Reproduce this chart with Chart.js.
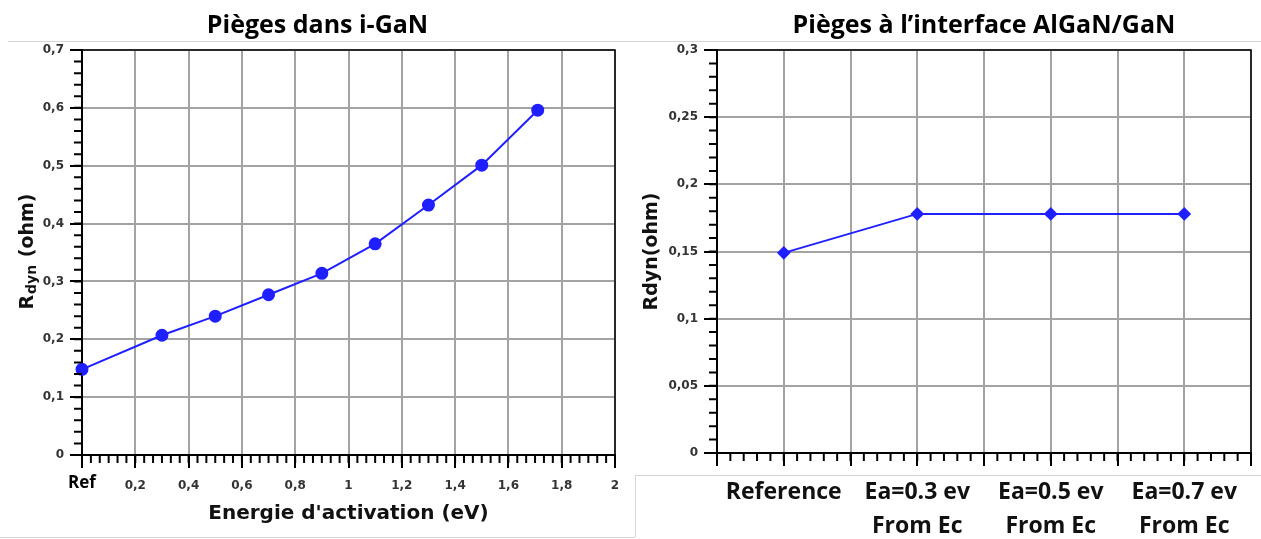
<!DOCTYPE html>
<html lang="fr">
<head>
<meta charset="UTF-8">
<title>Rdyn - pièges</title>
<script src="https://cdn.jsdelivr.net/npm/chart.js"></script>
<style>
    html, body { margin: 0; padding: 0; background: #fff; }
    #wrap { position: relative; width: 1261px; height: 539px; overflow: hidden; }
    #leftBox { position: absolute; left: 0; top: 0; width: 640px; height: 539px; }
    #rightBox { position: absolute; left: 640px; top: 0; width: 621px; height: 539px; }
    .edge { position: absolute; background: #d6d6d6; pointer-events: none; }
</style>
</head>
<body>
<div id="wrap">
    <div id="leftBox"><canvas id="bulkChart"></canvas></div>
    <div id="rightBox"><canvas id="ifaceChart"></canvas></div>
    <!-- bords clairs des captures d'origine -->
    <div class="edge" style="left:8px;top:41px;width:1253px;height:1px"></div>
    <div class="edge" style="left:0;top:537px;width:635px;height:1px"></div>
    <div class="edge" style="left:635px;top:475px;width:1px;height:62px"></div>
    <div class="edge" style="left:635px;top:475px;width:626px;height:1px"></div>
</div>
<script>
    // pièges dans i-GaN
    const energyEv = [0, 0.3, 0.5, 0.7, 0.9, 1.1, 1.3, 1.5, 1.71];
    const rdynBulk = [0.148, 0.207, 0.240, 0.277, 0.314, 0.365, 0.432, 0.501, 0.596];
    const bulkZeroLabel = 'Ref';

    // pièges à l'interface AlGaN/GaN
    const trapCases = [['Reference'], ['Ea=0.3 ev', 'From Ec'], ['Ea=0.5 ev', 'From Ec'], ['Ea=0.7 ev', 'From Ec']];
    const rdynIface = [0.149, 0.178, 0.178, 0.178];

    const tickFont = { family: "'DejaVu Sans'", size: 12, weight: 'bold' };
    const blue = '#1f1fff';
    const gridGray = '#a3a3a3';

    function fr(v) {
        return String(+v.toFixed(3)).replace('.', ',');
    }

    // petites graduations + cadre haut/droite
    const minorTicks = {
        id: 'minorTicks',
        afterDraw(chart, args, opts) {
            const ctx = chart.ctx;
            const a = chart.chartArea;
            ctx.save();
            ctx.strokeStyle = '#000';
            ctx.lineWidth = 1.5;
            ctx.beginPath();
            ctx.moveTo(a.left, a.top);
            ctx.lineTo(a.right, a.top);
            ctx.lineTo(a.right, a.bottom);
            ctx.stroke();

            ctx.lineWidth = 2;
            const xs = chart.scales.x, ys = chart.scales.y;
            let n = Math.round((xs.max - xs.min) / opts.xStep);
            ctx.beginPath();
            for (let i = 0; i <= n; i++) {
                const px = xs.getPixelForValue(xs.min + i * opts.xStep);
                ctx.moveTo(px, a.bottom);
                ctx.lineTo(px, a.bottom + opts.len);
            }
            n = Math.round((ys.max - ys.min) / opts.yStep);
            for (let i = 0; i <= n; i++) {
                const py = ys.getPixelForValue(ys.min + i * opts.yStep);
                ctx.moveTo(a.left, py);
                ctx.lineTo(a.left - opts.len, py);
            }
            ctx.stroke();

            if (opts.subTitle) {
                const t = opts.subTitle;
                ctx.translate(t.x, (a.top + a.bottom) / 2);
                ctx.rotate(-Math.PI / 2);
                ctx.fillStyle = '#111';
                ctx.textBaseline = 'alphabetic';
                ctx.textAlign = 'left';
                const big = "bold 19px 'DejaVu Sans'", small = "bold 14px 'DejaVu Sans'";
                ctx.font = big; const w1 = ctx.measureText(t.main).width;
                const w3 = ctx.measureText(t.tail).width;
                ctx.font = small; const w2 = ctx.measureText(t.sub).width;
                let x0 = -(w1 + w2 + w3) / 2;
                ctx.font = big; ctx.fillText(t.main, x0, 7);
                ctx.font = small; ctx.fillText(t.sub, x0 + w1 + 1, 10);
                ctx.font = big; ctx.fillText(t.tail, x0 + w1 + w2 + 2, 7);
            }
            ctx.restore();
        }
    };

    new Chart(document.getElementById('bulkChart'), {
        type: 'scatter',
        data: {
            datasets: [{
                data: energyEv.map((e, i) => ({ x: e, y: rdynBulk[i] })),
                showLine: true,
                borderColor: blue,
                backgroundColor: blue,
                borderWidth: 2,
                pointRadius: 5.5,
                pointHoverRadius: 5.5,
                clip: false
            }]
        },
        options: {
            responsive: true,
            maintainAspectRatio: false,
            animation: false,
            layout: { padding: { left: 20, right: 25, top: 0, bottom: 0 } },
            plugins: {
                legend: { display: false },
                tooltip: { enabled: false },
                title: {
                    display: true,
                    text: 'Pièges dans i-GaN',
                    color: '#000',
                    font: { family: "'Open Sans'", size: 25, weight: 'bold' },
                    padding: { top: 11, bottom: 9 }
                },
                minorTicks: { xStep: 0.2 / 6, yStep: 0.02, len: 8,
                    subTitle: { x: 26, main: 'R', sub: 'dyn', tail: ' (ohm)' } }
            },
            scales: {
                x: {
                    type: 'linear', min: 0, max: 2,
                    afterFit(s) { s.height = 84; },
                    border: { color: '#000', width: 2 },
                    grid: { color: gridGray, lineWidth: 2, tickLength: 13, tickColor: '#000', tickWidth: 2 },
                    ticks: {
                        stepSize: 0.2, autoSkip: false, maxRotation: 0, padding: 11,
                        color: (c) => c.tick && c.tick.value === 0 ? '#000' : '#333',
                        font: (c) => c.tick && c.tick.value === 0
                            ? { family: "'Open Sans'", size: 17, weight: 'bold', lineHeight: 0.5 }
                            : tickFont,
                        callback: (v) => v === 0 ? bulkZeroLabel : fr(v)
                    },
                    title: {
                        display: true,
                        text: "Energie d'activation (eV)",
                        color: '#111',
                        font: { family: "'DejaVu Sans'", size: 20, weight: 'bold' },
                        padding: { top: 0, bottom: 13 }
                    }
                },
                y: {
                    min: 0, max: 0.7,
                    afterFit(s) { s.width = 62; },
                    border: { color: '#000', width: 2 },
                    grid: { color: gridGray, lineWidth: 2, tickLength: 12, tickColor: '#000', tickWidth: 2 },
                    ticks: { stepSize: 0.1, padding: 6, color: '#333', font: tickFont, callback: (v) => fr(v) }
                }
            }
        },
        plugins: [minorTicks]
    });

    new Chart(document.getElementById('ifaceChart'), {
        type: 'scatter',
        data: {
            datasets: [{
                data: rdynIface.map((r, i) => ({ x: i, y: r })),
                showLine: true,
                borderColor: blue,
                backgroundColor: blue,
                borderWidth: 2,
                pointStyle: 'rectRot',
                pointRadius: 5.5,
                pointHoverRadius: 5.5,
                clip: false
            }]
        },
        options: {
            responsive: true,
            maintainAspectRatio: false,
            animation: false,
            layout: { padding: { left: 0, right: 10, top: 0, bottom: 0 } },
            plugins: {
                legend: { display: false },
                tooltip: { enabled: false },
                title: {
                    display: true,
                    fullSize: false,
                    text: 'Pièges à l’interface AlGaN/GaN',
                    color: '#000',
                    font: { family: "'Open Sans'", size: 25, weight: 'bold' },
                    padding: { top: 11, bottom: 9 }
                },
                minorTicks: { xStep: 0.1, yStep: 0.01, len: 8 }
            },
            scales: {
                x: {
                    type: 'linear', min: -0.5, max: trapCases.length - 0.5,
                    afterFit(s) { s.height = 86; },
                    border: { color: '#000', width: 2 },
                    grid: { color: gridGray, lineWidth: 2, tickLength: 13, tickColor: '#000', tickWidth: 2 },
                    ticks: {
                        stepSize: 0.5, autoSkip: false, maxRotation: 0, padding: 9,
                        color: '#111',
                        font: { family: "'Open Sans'", size: 23, weight: 'bold', lineHeight: 1.48 },
                        callback: (v) => Number.isInteger(v) && trapCases[v] ? trapCases[v] : ''
                    }
                },
                y: {
                    min: 0, max: 0.3,
                    afterFit(s) { s.width = 77; },
                    border: { color: '#000', width: 2 },
                    grid: { color: gridGray, lineWidth: 2, tickLength: 13, tickColor: '#000', tickWidth: 2 },
                    ticks: { stepSize: 0.05, padding: 6, color: '#333', font: tickFont, callback: (v) => fr(v) },
                    title: {
                        display: true,
                        text: 'Rdyn(ohm)',
                        color: '#111',
                        font: { family: "'DejaVu Sans'", size: 19, weight: 'bold' },
                        padding: { top: 1, bottom: 0 }
                    }
                }
            }
        },
        plugins: [minorTicks]
    });
</script>
</body>
</html>
